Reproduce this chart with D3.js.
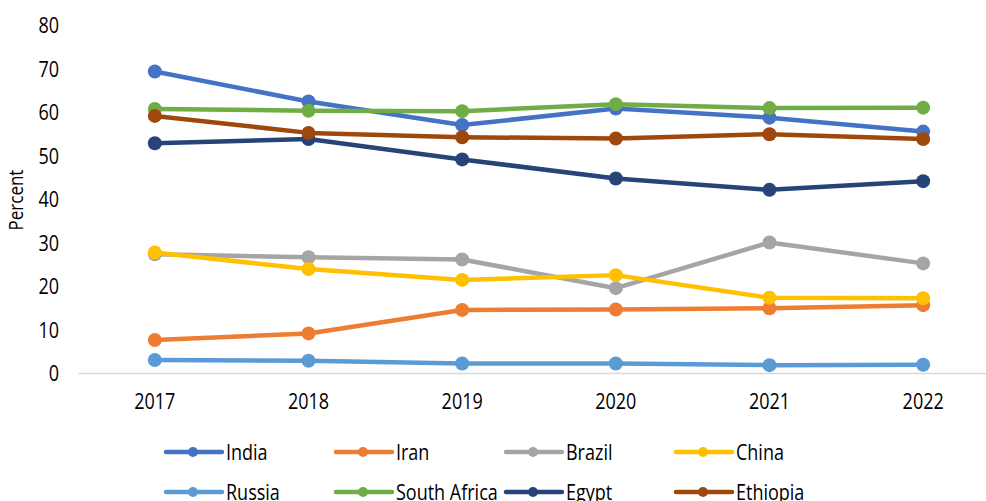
<!DOCTYPE html>
<html>
<head>
<meta charset="utf-8">
<script src="https://cdn.jsdelivr.net/npm/d3@7"></script>
<style>
  html, body { margin: 0; padding: 0; background: #fff; }
  svg { display: block; }
  text { font-family: "Open Sans", "Noto Sans", sans-serif; fill: #000; }
</style>
</head>
<body>
<svg id="chart" width="986" height="501"></svg>
<script>
// Years on the category axis
const years = ["2017", "2018", "2019", "2020", "2021", "2022"];

// Share (percent) per country and year
const india       = [69.3, 62.4, 57.0, 60.8, 58.7, 55.5];
const iran        = [7.6, 9.1, 14.5, 14.6, 14.9, 15.6];
const brazil      = [27.3, 26.6, 26.1, 19.5, 30.0, 25.2];
const china       = [27.7, 23.9, 21.4, 22.5, 17.3, 17.2];
const russia      = [3.0, 2.8, 2.2, 2.2, 1.8, 1.9];
const southAfrica = [60.7, 60.3, 60.2, 61.8, 60.9, 61.0];
const egypt       = [52.8, 53.8, 49.1, 44.7, 42.1, 44.1];
const ethiopia    = [59.1, 55.2, 54.2, 53.9, 54.9, 53.8];

const yTicks = [0, 10, 20, 30, 40, 50, 60, 70, 80];
const yLabel = "Percent";

const series = [
  { name: "India",        values: india,       color: "#4472C4" },
  { name: "Iran",         values: iran,        color: "#ED7D31" },
  { name: "Brazil",       values: brazil,      color: "#A5A5A5" },
  { name: "China",        values: china,       color: "#FFC000" },
  { name: "Russia",       values: russia,      color: "#5B9BD5" },
  { name: "South Africa", values: southAfrica, color: "#70AD47" },
  { name: "Egypt",        values: egypt,       color: "#264478" },
  { name: "Ethiopia",     values: ethiopia,    color: "#9E480E" }
];

// Slightly tall lettering for all labels
const STRETCH = 1.18;
const FS = 18;

const svg = d3.select("#chart");

// Category slots: each year sits at the centre of its band
const x = d3.scaleBand().domain(years).range([78, 1000]);
const xc = d => x(d) + x.bandwidth() / 2;
const y = d3.scaleLinear().domain([0, 80]).range([373, 25]);

// Y axis labels (no axis line, no ticks)
const yAxis = d3.axisLeft(y).tickValues(yTicks).tickSize(0).tickPadding(0);
const gy = svg.append("g").attr("transform", "translate(59,0)").call(yAxis);
gy.select(".domain").remove();
gy.selectAll("text")
  .attr("font-family", "\"Open Sans\", sans-serif")
  .attr("font-size", FS)
  .attr("fill", "#000")
  .attr("x", 0)
  .attr("dy", "0.36em")
  .attr("transform", `scale(1,${STRETCH})`);

// Horizontal category axis line
const xAxis = d3.axisBottom(x).tickSize(0).tickPadding(0);
const gx = svg.append("g").attr("transform", "translate(0,373)").call(xAxis);
gx.select(".domain").attr("stroke", "#d9d9d9").attr("stroke-width", 1.5);
gx.selectAll("text")
  .attr("font-family", "\"Open Sans\", sans-serif")
  .attr("font-size", FS)
  .attr("fill", "#000")
  .attr("y", 0)
  .attr("dy", 0)
  .attr("transform", `translate(0,36) scale(1,${STRETCH})`);

// Y axis title
svg.append("text")
  .attr("transform", `translate(23,200) rotate(-90) scale(1,${STRETCH})`)
  .attr("text-anchor", "middle")
  .attr("font-size", 17)
  .text(yLabel);

// Lines with round markers
const line = d3.line().x((d, i) => xc(years[i])).y(d => y(d));
const plot = svg.append("g");
series.forEach(s => {
  const g = plot.append("g");
  g.append("path")
    .attr("d", line(s.values))
    .attr("fill", "none")
    .attr("stroke", s.color)
    .attr("stroke-width", 4.5)
    .attr("stroke-linejoin", "round")
    .attr("stroke-linecap", "round");
  g.selectAll("circle")
    .data(s.values)
    .join("circle")
    .attr("cx", (d, i) => xc(years[i]))
    .attr("cy", d => y(d))
    .attr("r", 7)
    .attr("fill", s.color);
});

// Legend: two rows of four
const legend = svg.append("g");
series.forEach((s, i) => {
  const col = i % 4, row = Math.floor(i / 4);
  const lx = 166 + col * 170, ly = 452 + row * 40;
  const g = legend.append("g").attr("transform", `translate(${lx},${ly})`);
  g.append("line")
    .attr("x1", 0).attr("x2", 56).attr("y1", 0).attr("y2", 0)
    .attr("stroke", s.color).attr("stroke-width", 4.5)
    .attr("stroke-linecap", "round");
  g.append("circle").attr("cx", 27).attr("cy", 0).attr("r", 5).attr("fill", s.color);
  g.append("text")
    .attr("transform", `translate(60,0) scale(1,${STRETCH})`)
    .attr("dy", "0.36em")
    .attr("font-size", FS)
    .text(s.name);
});
</script>
</body>
</html>
